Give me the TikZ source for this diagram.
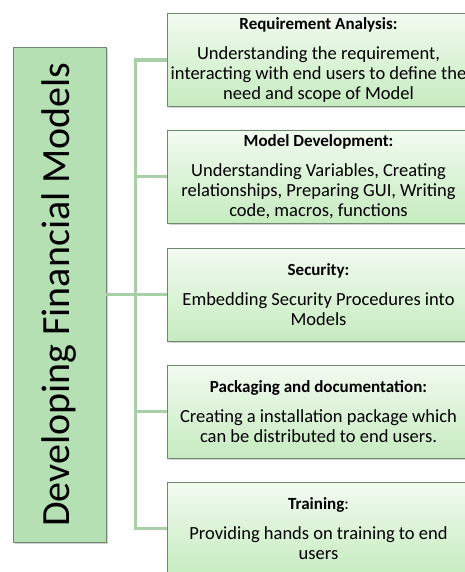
\documentclass[tikz,border=0pt]{standalone}
\usepackage{fontspec}
\setmainfont{Carlito}
\usetikzlibrary{shadows}
\definecolor{edgegreen}{HTML}{6F876F}
\definecolor{leftgreen}{HTML}{B4E0B4}
\definecolor{linegreen}{HTML}{A9CFA7}
\definecolor{topgreen}{HTML}{F2FBF0}
\definecolor{botgreen}{HTML}{C6EBC0}
\begin{document}
\begin{tikzpicture}[x=1pt, y=-1pt,
  stage/.style={draw=edgegreen, line width=.8pt, top color=topgreen, bottom color=botgreen,
    minimum width=303pt, minimum height=93pt, inner sep=0pt, align=center,
    font=\fontsize{18.5}{20}\selectfont, drop shadow={opacity=.35, shadow xshift=1.5pt, shadow yshift=-2pt}},
  branch/.style={draw=linegreen, line width=3.5pt}]
\useasboundingbox (0,0) rectangle (464,572);
\node[draw=edgegreen, line width=.8pt, fill=leftgreen, minimum width=93pt, minimum height=495pt,
  drop shadow={opacity=.35, shadow xshift=1.5pt, shadow yshift=-2pt}] (title) at (59.5,294.5) {};
\node[rotate=90, font=\fontsize{40}{44}\selectfont] at (title) {Developing Financial Models};
\node[stage] (s1) at (318.5,60) {\textbf{\fontsize{17}{20}\selectfont Requirement Analysis:}\\[10pt]
  Understanding the requirement,\\ interacting with end users to define the\\ need and scope of Model};
\node[stage] (s2) at (318.5,176.5) {\textbf{\fontsize{17}{20}\selectfont Model Development:}\\[10pt]
  Understanding Variables, Creating\\ relationships, Preparing GUI, Writing\\ code, macros, functions};
\node[stage] (s3) at (318.5,294.5) {\textbf{\fontsize{17}{20}\selectfont Security:}\\[10pt]
  Embedding Security Procedures into\\ Models};
\node[stage] (s4) at (318.5,411.5) {\textbf{\fontsize{17}{20}\selectfont Packaging and documentation:}\\[10pt]
  Creating a installation package which\\ can be distributed to end users.};
\node[stage] (s5) at (318.5,528.5) {{\fontsize{17}{20}\selectfont\textbf{Training}:}\\[10pt]
  Providing hands on training to end\\ users};
\draw[branch] (s1.west) -- ++(-31,0) |- (s5.west);
\foreach \i in {2,4} \draw[branch] (s\i.west) -- ++(-31,0);
\draw[branch] (title.east) -- (s3.west);
\end{tikzpicture}
\end{document}
